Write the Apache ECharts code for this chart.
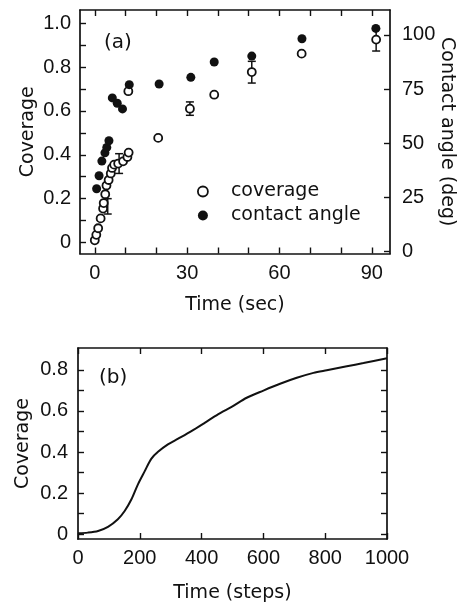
<!DOCTYPE html>
<html>
<head>
<meta charset="utf-8">
<script src="https://cdn.jsdelivr.net/npm/echarts@6.0.0/dist/echarts.min.js"></script>
<style>
  html, body { margin: 0; padding: 0; background: #fff; }
  #chart { width: 465px; height: 603px; }
</style>
</head>
<body>
<div id="chart"></div>
<script>
// Panel (a): measured coverage and contact angle vs time (sec)
const covTime = [0, 0.5, 1.1, 1.9, 2.7, 2.9, 3.4, 3.8, 4.5, 5.2, 5.6, 6.3, 7.6, 9.2, 10.6, 11.0, 10.9, 20.6, 30.9, 38.8, 51.0, 67.2, 91.4];
const covValue = [0.01, 0.035, 0.065, 0.11, 0.155, 0.18, 0.22, 0.26, 0.285, 0.315, 0.34, 0.355, 0.36, 0.37, 0.39, 0.41, 0.69, 0.477, 0.61, 0.674, 0.777, 0.861, 0.925];
const angleTime = [0.6, 1.4, 2.3, 3.3, 3.9, 4.6, 5.7, 7.3, 9.0, 11.2, 20.9, 31.2, 38.8, 51.0, 67.3, 91.3];
const angleValue = [28.9, 34.9, 41.7, 45.5, 48.0, 51.1, 70.9, 68.4, 65.8, 77.0, 77.3, 80.4, 87.5, 90.2, 98.2, 103.0];
const errTime = [4.2, 7.9, 30.9, 51.0, 91.4];
const errLow = [0.13, 0.315, 0.58, 0.727, 0.873];
const errHigh = [0.20, 0.405, 0.641, 0.826, 0.975];

// Panel (b): simulated coverage vs time (steps)
const simSteps = [0, 32, 65, 97, 129, 151, 173, 194, 216, 237, 259, 291, 324, 367, 410, 453, 500, 546, 600, 654, 708, 762, 805, 870, 924, 1000];
const simCoverage = [0.005, 0.008, 0.016, 0.036, 0.073, 0.113, 0.170, 0.243, 0.307, 0.367, 0.401, 0.437, 0.465, 0.502, 0.542, 0.583, 0.622, 0.664, 0.699, 0.732, 0.761, 0.785, 0.798, 0.817, 0.833, 0.856];

// Tick positions and labels
const timeTicksA = [0, 10, 20, 30, 40, 50, 60, 70, 80, 90];
const timeLabelsA = [0, 30, 60, 90];
const covTicksA = [0, 0.1, 0.2, 0.3, 0.4, 0.5, 0.6, 0.7, 0.8, 0.9, 1.0];
const covLabelsA = [0, 0.2, 0.4, 0.6, 0.8, 1.0];
const angleTicks = [0, 25, 50, 75, 100];
const stepTicks = [0, 200, 400, 600, 800, 1000];
const covTicksB = [0, 0.1, 0.2, 0.3, 0.4, 0.5, 0.6, 0.7, 0.8];
const covLabelsB = [0, 0.2, 0.4, 0.6, 0.8];

document.addEventListener('DOMContentLoaded', function() {
    const ink = '#111';
    const tickFont = { fontFamily: 'Liberation Sans', fontSize: 20, color: ink };
    const nameFont = { fontFamily: 'DejaVu Sans', fontSize: 19, color: ink };

    function covFormat(v) {
        return v === 0 ? '0' : v.toFixed(1);
    }
    function plainFormat(v) {
        return String(v);
    }

    // one side of the framed box, ticks pointing inward
    function frameAxis(o) {
        return Object.assign({
            type: 'value',
            axisLine: { show: true, onZero: false, lineStyle: { color: ink, width: 1.7 } },
            axisTick: { show: true, inside: true, length: 6, lineStyle: { color: ink, width: 1.4 }, customValues: o.ticks },
            axisLabel: o.labels ? Object.assign({ customValues: o.labels, margin: 10, formatter: plainFormat }, tickFont, o.labelExtra || {}) : { show: false },
            splitLine: { show: false },
            nameMoveOverlap: false,
            nameTextStyle: nameFont
        }, o.axis);
    }

    const chart = echarts.init(document.getElementById('chart'));

    chart.setOption({
        animation: false,
        backgroundColor: '#fff',
        title: [
            { text: '(a)', left: 99, top: 28, textStyle: { fontFamily: 'DejaVu Sans', fontSize: 20, fontWeight: 'normal', color: ink } },
            { text: '(b)', left: 94, top: 363, textStyle: { fontFamily: 'DejaVu Sans', fontSize: 20, fontWeight: 'normal', color: ink } }
        ],
        legend: {
            orient: 'vertical',
            left: 197,
            top: 182,
            padding: 0,
            itemWidth: 10,
            itemHeight: 10,
            itemGap: 5,
            textStyle: Object.assign({ lineHeight: 19, padding: [0, 0, 0, 18] }, nameFont),
            data: [
                { name: 'coverage', icon: 'circle', itemStyle: { color: '#fff', borderColor: ink, borderWidth: 1.8 } },
                { name: 'contact angle', icon: 'circle', itemStyle: { color: ink } }
            ]
        },
        grid: [
            { left: 80, top: 10, width: 310, height: 243.5, outerBoundsMode: 'none' },
            { left: 78, top: 348, width: 309, height: 191, outerBoundsMode: 'none' }
        ],
        xAxis: [
            frameAxis({ ticks: timeTicksA, labels: timeLabelsA, axis: {
                gridIndex: 0, position: 'bottom', min: -4.8, max: 95.9,
                name: 'Time (sec)', nameLocation: 'middle', nameGap: 42 } }),
            frameAxis({ ticks: timeTicksA, axis: { gridIndex: 0, position: 'top', min: -4.8, max: 95.9 } }),
            frameAxis({ ticks: stepTicks, labels: stepTicks, labelExtra: { margin: 9 }, axis: {
                gridIndex: 1, position: 'bottom', min: 0, max: 1000,
                name: 'Time (steps)', nameLocation: 'middle', nameGap: 45 } }),
            frameAxis({ ticks: stepTicks, axis: { gridIndex: 1, position: 'top', min: 0, max: 1000 } })
        ],
        yAxis: [
            frameAxis({ ticks: covTicksA, labels: covLabelsA, labelExtra: { formatter: covFormat, margin: 9 }, axis: {
                gridIndex: 0, position: 'left', min: -0.05, max: 1.06,
                name: 'Coverage', nameLocation: 'middle', nameGap: 42 } }),
            frameAxis({ ticks: angleTicks, labels: angleTicks, labelExtra: { margin: 12 }, axis: {
                gridIndex: 0, position: 'right', min: -1, max: 111.5,
                name: 'Contact angle (deg)', nameLocation: 'middle', nameGap: 47, nameRotate: -90 } }),
            frameAxis({ ticks: covTicksB, labels: covLabelsB, labelExtra: { formatter: covFormat, margin: 10 }, axis: {
                gridIndex: 1, position: 'left', min: -0.023, max: 0.906,
                name: 'Coverage', nameLocation: 'middle', nameGap: 45 } }),
            frameAxis({ ticks: covTicksB, axis: { gridIndex: 1, position: 'right', min: -0.023, max: 0.906 } })
        ],
        series: [
            {
                name: 'error',
                type: 'custom',
                xAxisIndex: 0,
                yAxisIndex: 0,
                z: 1,
                data: errTime.map((t, i) => [t, errLow[i], errHigh[i]]),
                renderItem: function(params, api) {
                    const lo = api.coord([api.value(0), api.value(1)]);
                    const hi = api.coord([api.value(0), api.value(2)]);
                    const w = 4;
                    const st = { stroke: ink, lineWidth: 1.5 };
                    return {
                        type: 'group',
                        children: [
                            { type: 'line', shape: { x1: lo[0], y1: lo[1], x2: hi[0], y2: hi[1] }, style: st },
                            { type: 'line', shape: { x1: lo[0] - w, y1: lo[1], x2: lo[0] + w, y2: lo[1] }, style: st },
                            { type: 'line', shape: { x1: hi[0] - w, y1: hi[1], x2: hi[0] + w, y2: hi[1] }, style: st }
                        ]
                    };
                }
            },
            {
                name: 'coverage',
                type: 'scatter',
                xAxisIndex: 0,
                yAxisIndex: 0,
                z: 2,
                symbol: 'circle',
                symbolSize: 8,
                itemStyle: { color: '#fff', borderColor: ink, borderWidth: 1.8, opacity: 1 },
                data: covTime.map((t, i) => [t, covValue[i]])
            },
            {
                name: 'contact angle',
                type: 'scatter',
                xAxisIndex: 0,
                yAxisIndex: 1,
                z: 3,
                symbol: 'circle',
                symbolSize: 9,
                itemStyle: { color: ink, opacity: 1 },
                data: angleTime.map((t, i) => [t, angleValue[i]])
            },
            {
                name: 'simulation',
                type: 'line',
                xAxisIndex: 2,
                yAxisIndex: 2,
                smooth: 0.3,
                showSymbol: false,
                lineStyle: { color: ink, width: 2 },
                data: simSteps.map((s, i) => [s, simCoverage[i]])
            }
        ]
    });
});
</script>
</body>
</html>
